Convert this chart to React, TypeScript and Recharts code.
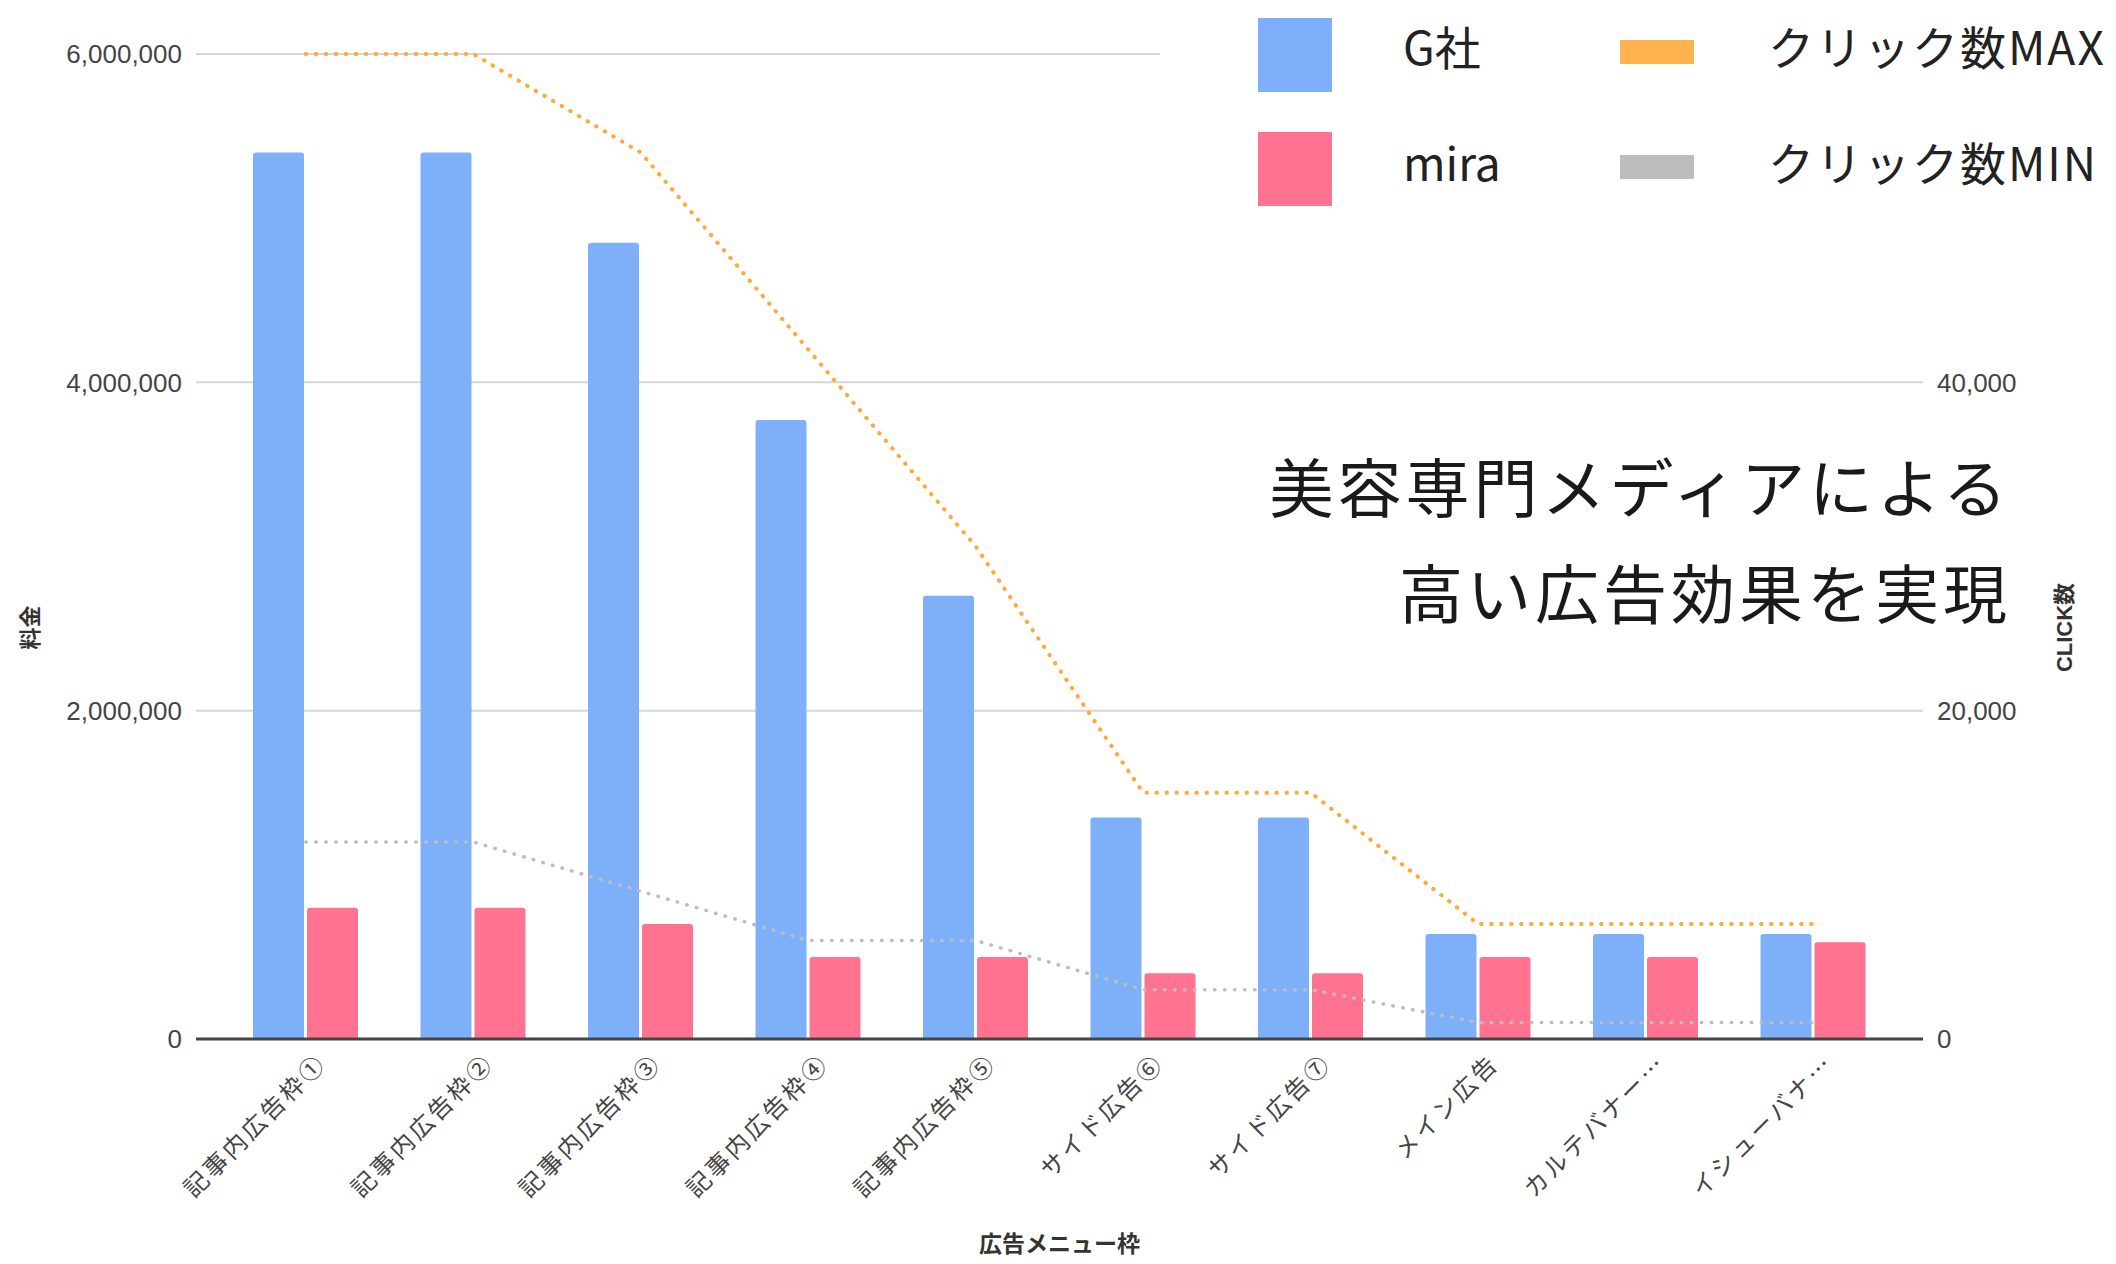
import React from 'react';
import { ComposedChart, Bar, Line, XAxis, YAxis, CartesianGrid, Legend, Label } from 'recharts';

const categories = [
    '記事内広告枠①',
    '記事内広告枠②',
    '記事内広告枠③',
    '記事内広告枠④',
    '記事内広告枠⑤',
    'サイド広告⑥',
    'サイド広告⑦',
    'メイン広告',
    'カルテバナー…',
    'イシューバナ…',
];
const gPrices = [5400000, 5400000, 4850000, 3770000, 2700000, 1350000, 1350000, 640000, 640000, 640000];
const miraPrices = [800000, 800000, 700000, 500000, 500000, 400000, 400000, 500000, 500000, 590000];
const clickMax = [60000, 60000, 54000, 42000, 30000, 15000, 15000, 7000, 7000, 7000];
const clickMin = [12000, 12000, 9000, 6000, 6000, 3000, 3000, 1000, 1000, 1000];
const priceTicks = [0, 2000000, 4000000, 6000000];
const clickTicks = [0, 20000, 40000];

const legendRows = [
    { bar: 'G社', barColor: '#7eaff9', line: 'クリック数MAX', lineColor: '#ffb24d' },
    { bar: 'mira', barColor: '#ff7390', line: 'クリック数MIN', lineColor: '#bdbdbd' },
];

const data = categories.map((name, i) => ({
    name,
    g: gPrices[i],
    mira: miraPrices[i],
    max: clickMax[i],
    min: clickMin[i],
}));

const fmt = (v: number) => v.toLocaleString('en-US');
const FONT = "'Liberation Sans', Arial, 'Noto Sans CJK JP', sans-serif";
const JP = "'Noto Sans CJK JP', 'Liberation Sans', sans-serif";

const AngledTick = (props: any) => {
    const { x, y, payload } = props;
    return (
        <g transform={`translate(${x + 22},${y + 18})`}>
            <text x={0} y={0} textAnchor="end" transform="rotate(-45)" fontSize={24} fill="#444" fontFamily={JP} letterSpacing={3}>
                {payload.value}
            </text>
        </g>
    );
};

const renderLegend = () => (
    <div style={{ position: 'relative', width: 956, height: 225, background: '#fff', fontFamily: JP, color: '#222' }}>
        {legendRows.map((r, i) => (
            <React.Fragment key={r.bar}>
                <div style={{ position: 'absolute', left: 98, top: 18 + i * 114, width: 74, height: 74, background: r.barColor }} />
                <div style={{ position: 'absolute', left: 243, top: 8 + i * 116, height: 74, lineHeight: '74px', fontSize: 46 }}>{r.bar}</div>
                <div style={{ position: 'absolute', left: 460, top: 40 + i * 115, width: 74, height: 24, background: r.lineColor }} />
                <div style={{ position: 'absolute', left: 608, top: 8 + i * 116, height: 74, lineHeight: '74px', fontSize: 46, letterSpacing: 2, whiteSpace: 'nowrap' }}>{r.line}</div>
            </React.Fragment>
        ))}
    </div>
);

export default function App() {
    return (
        <div style={{ position: 'absolute', left: 0, top: 0, width: 2116, height: 1264, background: '#fff', overflow: 'hidden', fontFamily: FONT }}>
            <ComposedChart
                width={2116}
                height={1264}
                data={data}
                margin={{ top: 54, right: 0, left: 0, bottom: 0 }}
                barGap={3}
                barSize={51}
            >
                <CartesianGrid yAxisId="left" vertical={false} stroke="#d6d6d6" strokeWidth={2} />
                <XAxis
                    dataKey="name"
                    height={225}
                    interval={0}
                    tick={<AngledTick />}
                    tickLine={false}
                    axisLine={{ stroke: '#444', strokeWidth: 3 }}
                    padding={{ left: 26, right: 26 }}
                >
                    <Label value="広告メニュー枠" position="center" dy={92} fontSize={23} fontWeight={600} fill="#333" fontFamily={JP} />
                </XAxis>
                <YAxis
                    yAxisId="left"
                    width={196}
                    domain={[0, 6000000]}
                    ticks={priceTicks}
                    tickFormatter={fmt}
                    tickLine={false}
                    axisLine={false}
                    tickMargin={8}
                    tick={{ fontSize: 26, fill: '#444' }}
                >
                    <Label value="料金" angle={-90} position="center" dx={-68} dy={81} fontSize={22} fontWeight={600} fill="#333" fontFamily={JP} />
                </YAxis>
                <YAxis
                    yAxisId="right"
                    orientation="right"
                    width={193}
                    domain={[0, 60000]}
                    ticks={clickTicks}
                    tickFormatter={fmt}
                    tickLine={false}
                    axisLine={false}
                    tickMargin={8}
                    tick={{ fontSize: 26, fill: '#444', textAnchor: 'start' }}
                >
                    <Label value="CLICK数" angle={-90} position="center" dx={45} dy={81} fontSize={22} fontWeight={600} fill="#333" fontFamily={FONT} />
                </YAxis>
                <Legend layout="vertical" align="center" verticalAlign="middle" content={renderLegend} wrapperStyle={{ top: 0, left: 1160, width: 956, height: 225 }} />
                <Bar yAxisId="left" dataKey="g" name="G社" fill="#7eaff9" radius={[3, 3, 0, 0]} isAnimationActive={false} />
                <Bar yAxisId="left" dataKey="mira" name="mira" fill="#ff7390" radius={[3, 3, 0, 0]} isAnimationActive={false} />
                <Line yAxisId="right" type="linear" dataKey="max" name="クリック数MAX" stroke="#ffa938" strokeWidth={4} strokeDasharray="0.5 9.5" strokeLinecap="round" dot={false} activeDot={false} isAnimationActive={false} />
                <Line yAxisId="right" type="linear" dataKey="min" name="クリック数MIN" stroke="#bdbdbd" strokeWidth={3.5} strokeDasharray="0.5 9.5" strokeLinecap="round" dot={false} activeDot={false} isAnimationActive={false} />
            </ComposedChart>
            <div style={{ position: 'absolute', right: 2116 - 2011, top: 431, textAlign: 'right', fontFamily: JP, fontSize: 64, lineHeight: '106px', letterSpacing: 4, color: '#1a1a1a', fontWeight: 400, whiteSpace: 'nowrap' }}>
                美容専門メディアによる
                <br />
                高い広告効果を実現
            </div>
        </div>
    );
}
